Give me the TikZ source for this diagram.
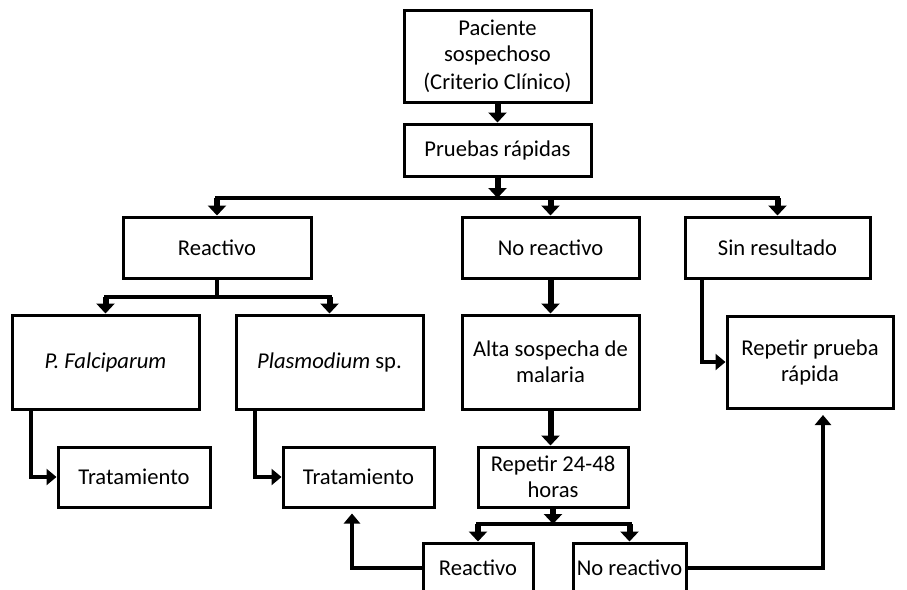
\documentclass[tikz,border=0pt]{standalone}
\usepackage{fontspec}
\setmainfont{Carlito}
\usetikzlibrary{arrows.meta}

\begin{document}
\begin{tikzpicture}[x=0.5pt,y=-0.5pt,
		box/.style={draw,line width=1.5pt,align=center,inner sep=0pt,font=\fontsize{11.3}{13}\selectfont},
		bar/.style={line width=2pt,line cap=rect},
		arr/.style={line width=3pt,-{Triangle[length=5pt,width=9pt]}},
		conn/.style={line width=2pt,-{Triangle[length=5pt,width=8pt]}}]
			\useasboundingbox (0,0) rectangle (907,590);
			\node[box,minimum width=93.5pt,minimum height=46pt] (paciente) at (497.5,56) {Paciente\\sospechoso\\[1pt](Criterio Clínico)};
			\node[box,minimum width=93.5pt,minimum height=26pt] (pruebas) at (497.5,150) {Pruebas rápidas};
			\node[box,minimum width=94pt,minimum height=30.5pt] (reac) at (217,247.5) {Reactivo};
			\node[box,minimum width=88.5pt,minimum height=30.5pt] (noreac) at (550.5,247.5) {No reactivo};
			\node[box,minimum width=92.5pt,minimum height=30.5pt] (sinres) at (777.5,247.5) {Sin resultado};
			\node[box,minimum width=93.5pt,minimum height=47pt] (falci) at (105.5,362) {\textit{P. Falciparum}};
			\node[box,minimum width=93.5pt,minimum height=47pt] (plasmo) at (329.5,362) {\textit{Plasmodium} sp.};
			\node[box,minimum width=88.5pt,minimum height=47pt] (alta) at (550.5,362) {Alta sospecha de\\malaria};
			\node[box,minimum width=83pt,minimum height=46pt] (repprueba) at (810,362) {Repetir prueba\\rápida};
			\node[box,minimum width=76pt,minimum height=30pt] (trat1) at (134,477) {Tratamiento};
			\node[box,minimum width=75.5pt,minimum height=30pt] (trat2) at (358.5,477) {Tratamiento};
			\node[box,minimum width=75pt,minimum height=30pt] (rep24) at (553,477) {Repetir 24-48\\horas};
			\node[box,minimum width=55pt,minimum height=24.5pt] (reac2) at (478,567.5) {Reactivo};
			\node[box,minimum width=56.5pt,minimum height=24.5pt] (noreac2) at (629.5,567.5) {No reactivo};
			\coordinate (split1) at (497.5,198);
			\coordinate (split2) at (217,297);
			\coordinate (split3) at (553,524);
			\draw[arr] (paciente.south) -- (pruebas.north);
			\draw[arr] (pruebas.south) -- (split1);
			\draw[bar] (reac.north |- split1) -- (sinres.north |- split1);
			\draw[arr] (reac.north |- split1) -- (reac.north);
			\draw[arr] (noreac.north |- split1) -- (noreac.north);
			\draw[arr] (sinres.north |- split1) -- (sinres.north);
			\draw[bar] (reac.south) -- (split2);
			\draw[bar] (falci.north |- split2) -- (plasmo.north |- split2);
			\draw[arr] (falci.north |- split2) -- (falci.north);
			\draw[arr] (plasmo.north |- split2) -- (plasmo.north);
			\draw[conn] ([xshift=10pt]falci.south west) |- (trat1.west);
			\draw[conn] ([xshift=10pt]plasmo.south west) |- (trat2.west);
			\draw[arr] (noreac.south) -- (alta.north);
			\draw[conn] ([xshift=9pt]sinres.south west) |- (repprueba.west);
			\draw[arr] (alta.south) -- (alta.south |- rep24.north);
			\draw[arr] (rep24.south) -- (split3);
			\draw[bar] (reac2.north |- split3) -- (noreac2.north |- split3);
			\draw[arr] (reac2.north |- split3) -- (reac2.north);
			\draw[arr] (noreac2.north |- split3) -- (noreac2.north);
			\draw[conn] (reac2.west) -| ([xshift=-3.25pt,yshift=-2.5pt]trat2.south);
			\draw[conn] (noreac2.east) -| ([xshift=6.5pt,yshift=-2.75pt]repprueba.south);
		\end{tikzpicture}
\end{document}
